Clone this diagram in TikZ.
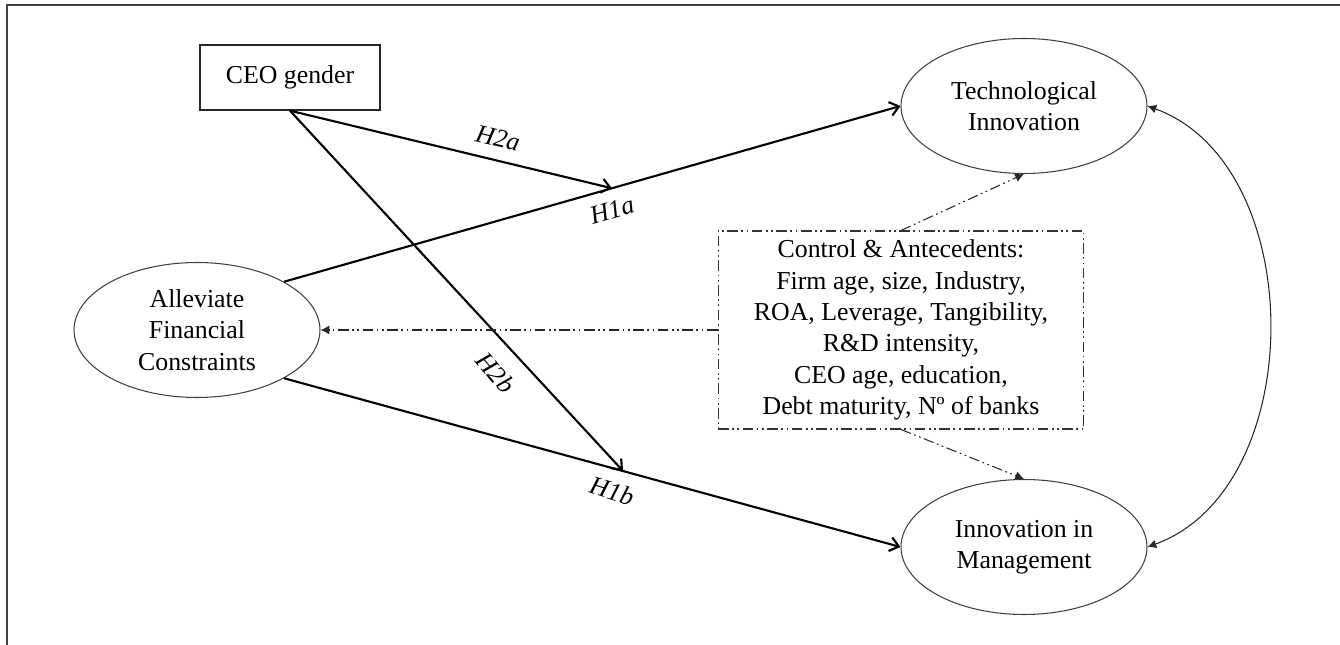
\documentclass[tikz,border=0pt]{standalone}
\usepackage{fontspec}
\setmainfont{Liberation Serif}
\usetikzlibrary{arrows.meta,shapes.geometric}
\tikzset{
  txt/.style={font=\fontsize{14.7}{17.8}\selectfont, align=center, inner sep=0pt},
  rectbox/.style={txt, draw=black!85, line width=0.8pt, minimum width=3.6cm, minimum height=1.3cm},
  ell/.style={txt, ellipse, draw=black!75, line width=0.6pt, minimum width=4.92cm, minimum height=2.7cm},
  ctrlbox/.style={txt, draw=black!80, line width=0.6pt, dashdots, minimum width=7.32cm, minimum height=3.96cm},
  dashdots/.style={dash pattern=on 6pt off 2pt on 1pt off 2pt on 1pt off 2pt},
  sol/.style={line width=1.2pt, black},
  solarrow/.style={sol, -{Straight Barb[length=5pt,width=8pt]}},
  ddarrow/.style={line width=0.6pt, black!85, dashdots, -{Latex[length=5pt,width=5pt]}},
  hyp/.style={font=\fontsize{14.7}{17}\selectfont\itshape, inner sep=0pt},
  frame/.style={line width=1.3pt, black!75}
}
\begin{document}
\begin{tikzpicture}[x=0.02cm,y=-0.02cm]
\useasboundingbox (0,0) rectangle (1340,645);
\draw[frame] (7,645) -- (7,5) -- (1340,5);

\node[rectbox] (ceo) at (290,77.5) {CEO gender};
\node[ell] (ti) at (1024,106) {Technological\\Innovation};
\node[ell] (af) at (197,330) {Alleviate\\Financial\\Constraints};
\node[ell] (im) at (1024,547) {Innovation in\\Management};
\node[ctrlbox] (ctl) at (901,330) {Control \& Antecedents:\\Firm age, size, Industry,\\ROA, Leverage, Tangibility,\\R\&D intensity,\\CEO age, education,\\Debt maturity, Nº of banks};

\draw[solarrow] (af.29) -- coordinate[pos=0.532] (p1) (ti.west);
\draw[solarrow] (af.-29) -- coordinate[pos=0.55] (p2) (im.west);
\draw[solarrow] (ceo.south) -- (p1);
\draw[solarrow] (ceo.south) -- (p2);

\node[hyp, rotate=-13] (h2a) at (498,138) {H2a};
\node[hyp, rotate=16] (h1a) at (612,210) {H1a};
\node[hyp, rotate=-50] (h2b) at (496,373) {H2b};
\node[hyp, rotate=-17] (h1b) at (612,491) {H1b};

\draw[ddarrow] (ctl.west) -- (af.east);
\draw[ddarrow] (ctl.north) -- (ti.south);
\draw[ddarrow] (ctl.south) -- (im.north);

\draw[line width=0.6pt, black!85, {Latex[length=5pt,width=5pt]}-{Latex[length=5pt,width=5pt]}]
  (ti.east) .. controls +(162,59) and +(162,-59) .. (im.east);
\end{tikzpicture}
\end{document}
